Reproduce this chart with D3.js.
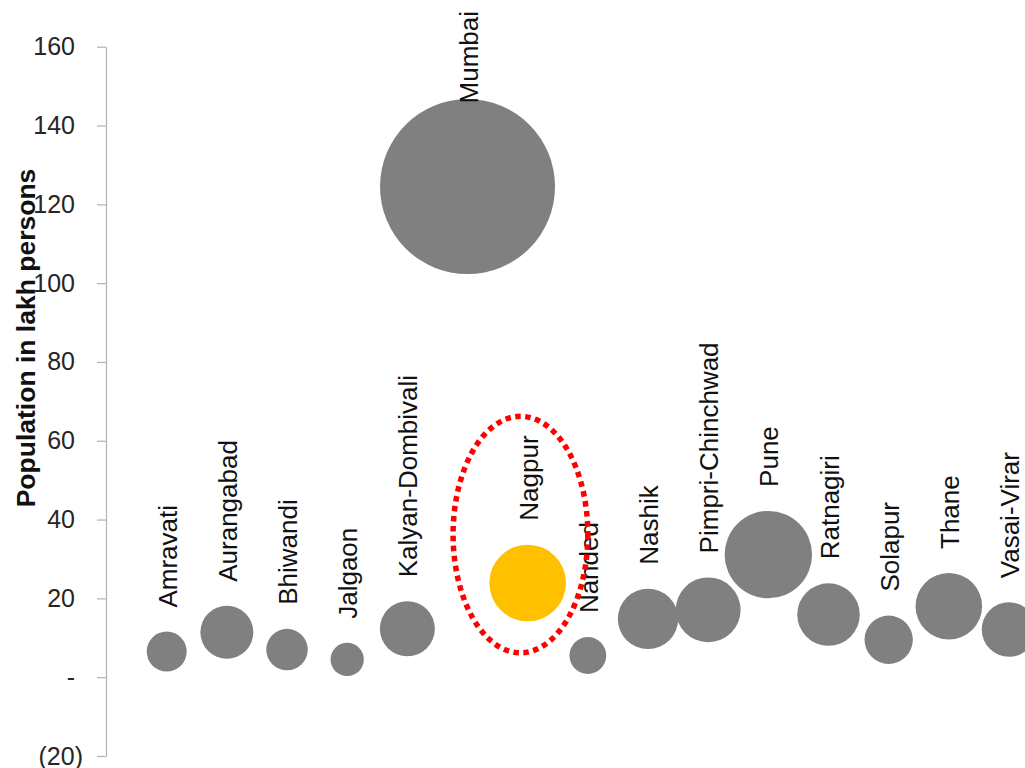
<!DOCTYPE html>
<html>
<head>
<meta charset="utf-8">
<script src="https://cdn.jsdelivr.net/npm/d3@7"></script>
<style>
  html, body { margin: 0; padding: 0; background: #ffffff; }
  svg { display: block; }
  text { font-family: "Liberation Sans", Arial, sans-serif; }
</style>
</head>
<body>
<svg id="chart" width="1025" height="768"></svg>
<script>
// ---- data ----
const cities = ["Amravati", "Aurangabad", "Bhiwandi", "Jalgaon", "Kalyan-Dombivali", "Mumbai", "Nagpur", "Nanded", "Nashik", "Pimpri-Chinchwad", "Pune", "Ratnagiri", "Solapur", "Thane", "Vasai-Virar"];
const population = [6.5, 11.4, 7.0, 4.5, 12.3, 124.5, 23.9, 5.5, 14.8, 17.1, 31.1, 15.9, 9.5, 18.0, 12.1];
const yTicks = [-20, 0, 20, 40, 60, 80, 100, 120, 140, 160];
const highlightCity = "Nagpur";
const yTitle = "Population in lakh persons";
// annotation ellipse in data units (x index, y value)
const ellipseCenter = [6.88, 36.2];
const ellipseRadii = [1.12, 30];

// ---- chart ----
const svg = d3.select("#chart");
const x = d3.scaleLinear().domain([1, 15]).range([166.7, 1009]);
const y = d3.scaleLinear().domain([-20, 160]).range([756, 46.7]);
const r = d3.scaleSqrt().domain([0, d3.max(population)]).range([0, 87.5]);

const data = cities.map((c, i) => ({ city: c, idx: i + 1, value: population[i] }));

// axis
const fmt = d => d > 0 ? String(d) : d === 0 ? "-" : "(" + (-d) + ")";
const axis = d3.axisLeft(y).tickValues(yTicks).tickFormat(fmt)
  .tickSizeInner(9).tickSizeOuter(0).tickPadding(22);
const gAxis = svg.append("g").attr("transform", "translate(106,0)").call(axis);
gAxis.select(".domain").attr("stroke", "#b3b3b3").attr("stroke-width", 1.2);
gAxis.selectAll(".tick line").attr("stroke", "#b3b3b3").attr("stroke-width", 1.2);
gAxis.selectAll(".tick text")
  .attr("fill", "#262626")
  .style("font-size", "25px")
  .style("font-family", "'Liberation Sans', Arial, sans-serif")
  .attr("x", d => d < 0 ? -23 : -31);

// axis title
svg.append("text")
  .attr("transform", `translate(26,${(166 + 510) / 2}) rotate(-90)`)
  .attr("text-anchor", "middle")
  .attr("dy", "0.35em")
  .style("font-size", "26.5px")
  .style("font-weight", "bold")
  .attr("fill", "#111")
  .text(yTitle);

// bubbles
svg.append("g").selectAll("circle")
  .data(data)
  .join("circle")
  .attr("cx", d => x(d.idx))
  .attr("cy", d => y(d.value))
  .attr("r", d => r(d.value))
  .attr("fill", d => d.city === highlightCity ? "#ffc000" : "#808080");

// labels (above each bubble, rotated; clamped at the top edge)
const gLab = svg.append("g");
data.forEach(d => {
  const cx = x(d.idx) + 1;
  const top = y(d.value) - r(d.value);
  const t = gLab.append("text")
    .style("font-size", "26px")
    .attr("fill", "#111")
    .attr("dy", "0.35em")
    .attr("text-anchor", "start")
    .text(d.city);
  const len = t.node().getComputedTextLength();
  let anchorY = top - 24;
  if (anchorY - len < 11) anchorY = 11 + len;
  t.attr("transform", `translate(${cx},${anchorY}) rotate(-90)`);
});

// annotation ellipse
const pxPerIdx = x(2) - x(1);
const pxPerVal = y(0) - y(1);
svg.append("ellipse")
  .attr("cx", x(ellipseCenter[0]))
  .attr("cy", y(ellipseCenter[1]))
  .attr("rx", ellipseRadii[0] * pxPerIdx)
  .attr("ry", ellipseRadii[1] * pxPerVal)
  .attr("fill", "none")
  .attr("stroke", "#ff0000")
  .attr("stroke-width", 5.5)
  .attr("stroke-dasharray", "5.5,4.5");
</script>
</body>
</html>
